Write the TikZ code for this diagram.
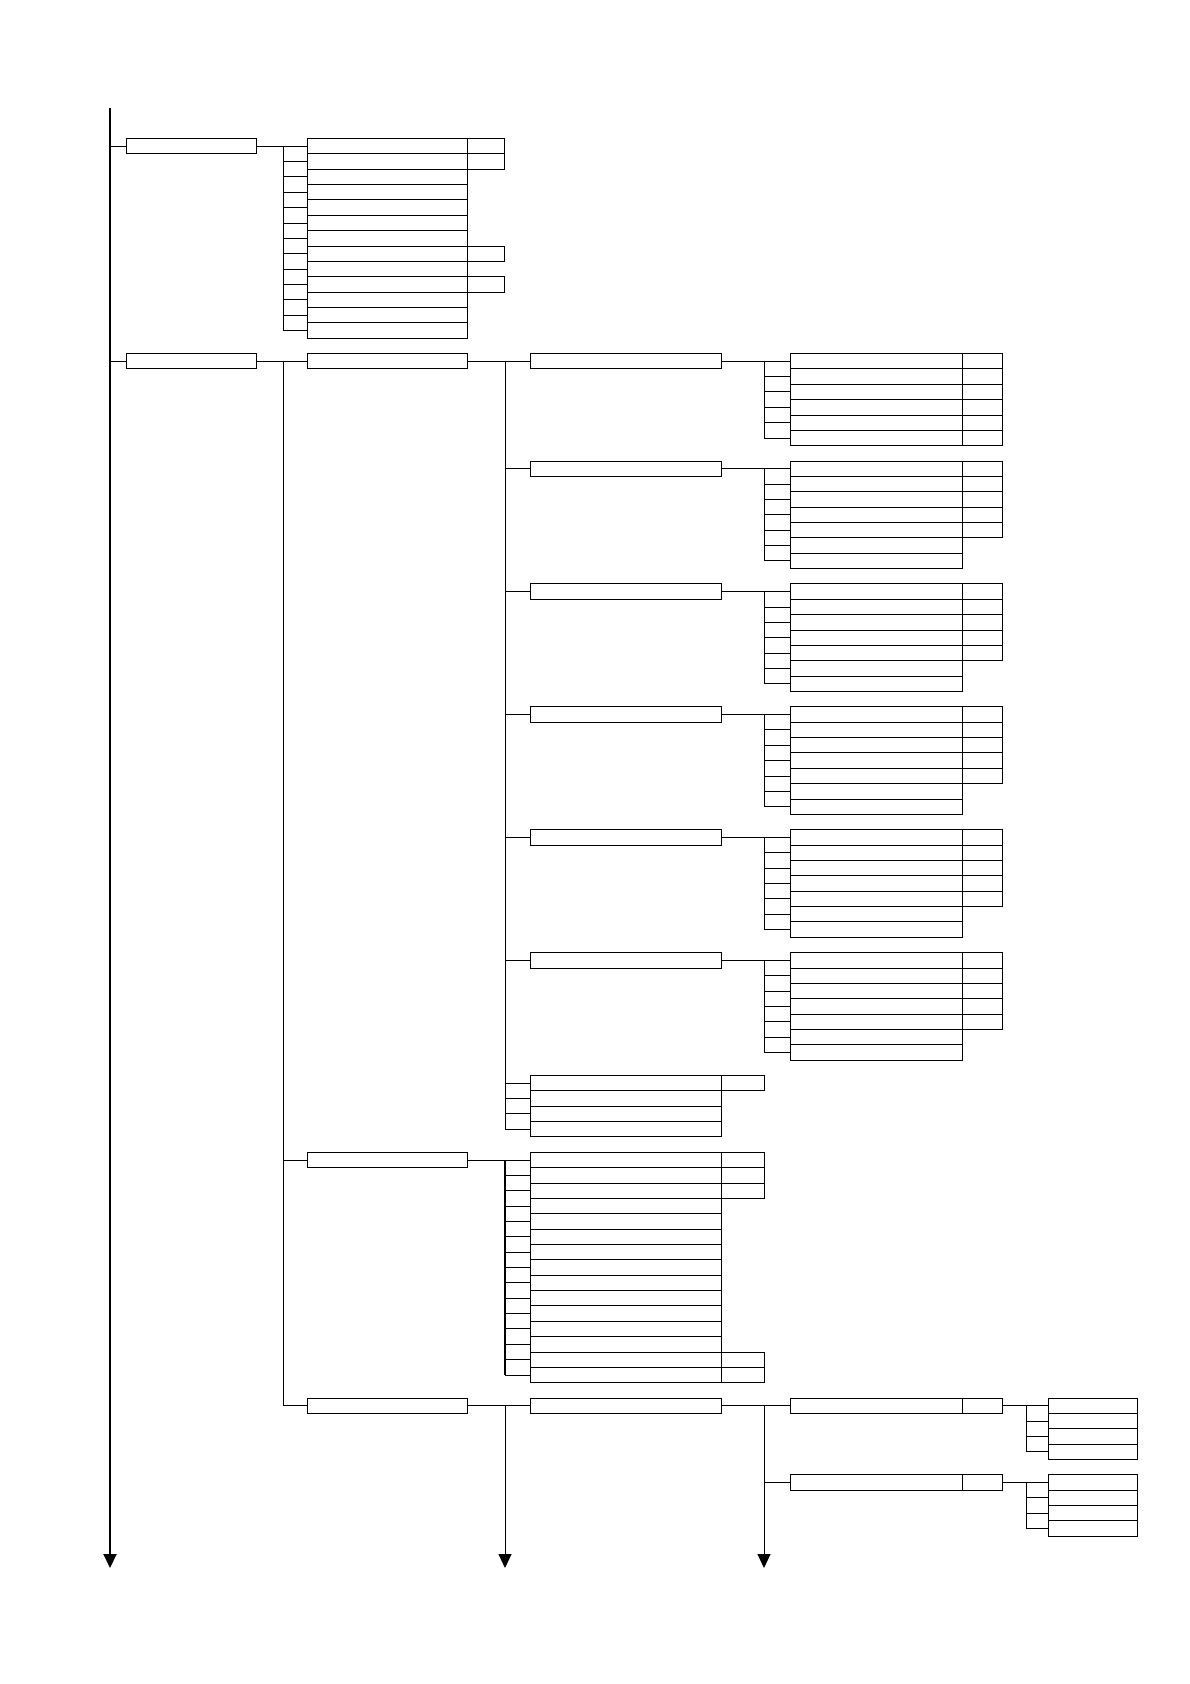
\documentclass[tikz,border=0pt]{standalone}
\usetikzlibrary{arrows.meta}

\newcommand{\rowtop}[1]{138.5+(#1)*15.36}

\tikzset{
  cell/.style={draw, rectangle, inner sep=0pt, outer sep=0pt,
    minimum height=15.36pt, anchor=north west},
  boxone/.style={cell, minimum width=130pt},
  boxtwo/.style={cell, minimum width=160pt},
  boxthree/.style={cell, minimum width=191pt},
  boxfour/.style={cell, minimum width=172pt},
  boxfive/.style={cell, minimum width=89pt},
  tagtwo/.style={cell, minimum width=37pt},
  tagthree/.style={cell, minimum width=43pt},
  tagfour/.style={cell, minimum width=40pt},
  spine/.style={line width=2pt},
}

\begin{document}
\begin{tikzpicture}[x=1pt, y=-1pt, line width=0.9pt,
    >={Triangle[width=13pt,length=14pt]}]
  \useasboundingbox (0,0) rectangle (1190,1684);

  % trunk columns
  \coordinate (ta) at (110,108);
  \coordinate (tb) at (283,0);
  \coordinate (tc) at (505,0);
  \coordinate (td) at (764,0);
  \coordinate (te) at (1026,0);

  % first branch
  \node[boxone] (a) at (126.5,{\rowtop{0}}) {};
  \foreach \k in {0,...,12}
    \node[boxtwo] (a\k) at (307,{\rowtop{\k}}) {};
  \foreach \k in {0,1,7,9}
    \node[tagtwo] (ax\k) at (a\k.north east) {};
  \draw (a.east) -- (a0.west);
  \draw (a0.west -| tb) -- (a12.west -| tb);
  \foreach \k in {1,...,12}
    \draw (a\k.west -| tb) -- (a\k.west);

  % second branch
  \node[boxone] (b) at (126.5,{\rowtop{14}}) {};
  \node[boxtwo] (b1) at (307,{\rowtop{14}}) {};
  \node[boxtwo] (b2) at (307,{\rowtop{66}}) {};
  \node[boxtwo] (b3) at (307,{\rowtop{82}}) {};
  \draw (b.east) -- (b1.west);
  \draw (b1.west -| tb) -- (b3.west -| tb);
  \draw (b2.west -| tb) -- (b2.west);
  \draw (b3.west -| tb) -- (b3.west);

  % spine
  \coordinate (ta end) at (110,1568);
  \draw[spine, ->] (ta) -- (ta end);
  \draw (a.west -| ta) -- (a.west);
  \draw (b.west -| ta) -- (b.west);

  % groups under b1
  \foreach \gi/\gr/\gn/\gx in {1/14/5/5, 2/21/6/4, 3/29/6/4,
                               4/37/6/4, 5/45/6/4, 6/53/6/4} {
    \node[boxthree] (c\gi) at (530,{\rowtop{\gr}}) {};
    \foreach \k in {0,...,\gn}
      \node[boxfour] (c\gi r\k) at (790,{\rowtop{\gr+\k}}) {};
    \foreach \k in {0,...,\gx}
      \node[tagfour] (c\gi x\k) at (c\gi r\k.north east) {};
    \draw (c\gi.east) -- (c\gi r0.west);
    \draw (c\gi r0.west -| td) -- (c\gi r\gn.west -| td);
    \foreach \k in {1,...,\gn}
      \draw (c\gi r\k.west -| td) -- (c\gi r\k.west);
  }
  \foreach \k in {0,...,3}
    \node[boxthree] (d\k) at (530,{\rowtop{61+\k}}) {};
  \node[tagthree] (dx0) at (d0.north east) {};
  \draw (b1.east) -- (c1.west);
  \draw (c1.west -| tc) -- (d3.west -| tc);
  \foreach \gi in {2,...,6}
    \draw (c\gi.west -| tc) -- (c\gi.west);
  \foreach \k in {0,...,3}
    \draw (d\k.west -| tc) -- (d\k.west);

  % list under b2
  \foreach \k in {0,...,14}
    \node[boxthree] (e\k) at (530,{\rowtop{66+\k}}) {};
  \foreach \k in {0,1,2,13,14}
    \node[tagthree] (ex\k) at (e\k.north east) {};
  \draw (b2.east) -- (e0.west);
  \draw[line width=1.6pt] (e0.west -| tc) -- (e14.west -| tc);
  \foreach \k in {1,...,14}
    \draw (e\k.west -| tc) -- (e\k.west);

  % under b3
  \node[boxthree] (c7) at (530,{\rowtop{82}}) {};
  \node[boxfour] (g1) at (790,{\rowtop{82}}) {};
  \node[boxfour] (g2) at (790,{\rowtop{87}}) {};
  \node[tagfour] (gx1) at (g1.north east) {};
  \node[tagfour] (gx2) at (g2.north east) {};
  \draw (b3.east) -- (c7.west);
  \draw (c7.east) -- (g1.west);
  \coordinate (tc end) at (505,1568);
  \coordinate (td end) at (764,1568);
  \draw[->] (c7.west -| tc) -- (tc end);
  \draw[->] (g1.west -| td) -- (td end);
  \draw (g2.west -| td) -- (g2.west);
  \foreach \gi/\gr in {1/82, 2/87} {
    \foreach \k in {0,...,3}
      \node[boxfive] (f\gi r\k) at (1048,{\rowtop{\gr+\k}}) {};
    \draw (gx\gi.east) -- (f\gi r0.west);
    \draw (f\gi r0.west -| te) -- (f\gi r3.west -| te);
    \foreach \k in {1,...,3}
      \draw (f\gi r\k.west -| te) -- (f\gi r\k.west);
  }
\end{tikzpicture}
\end{document}
